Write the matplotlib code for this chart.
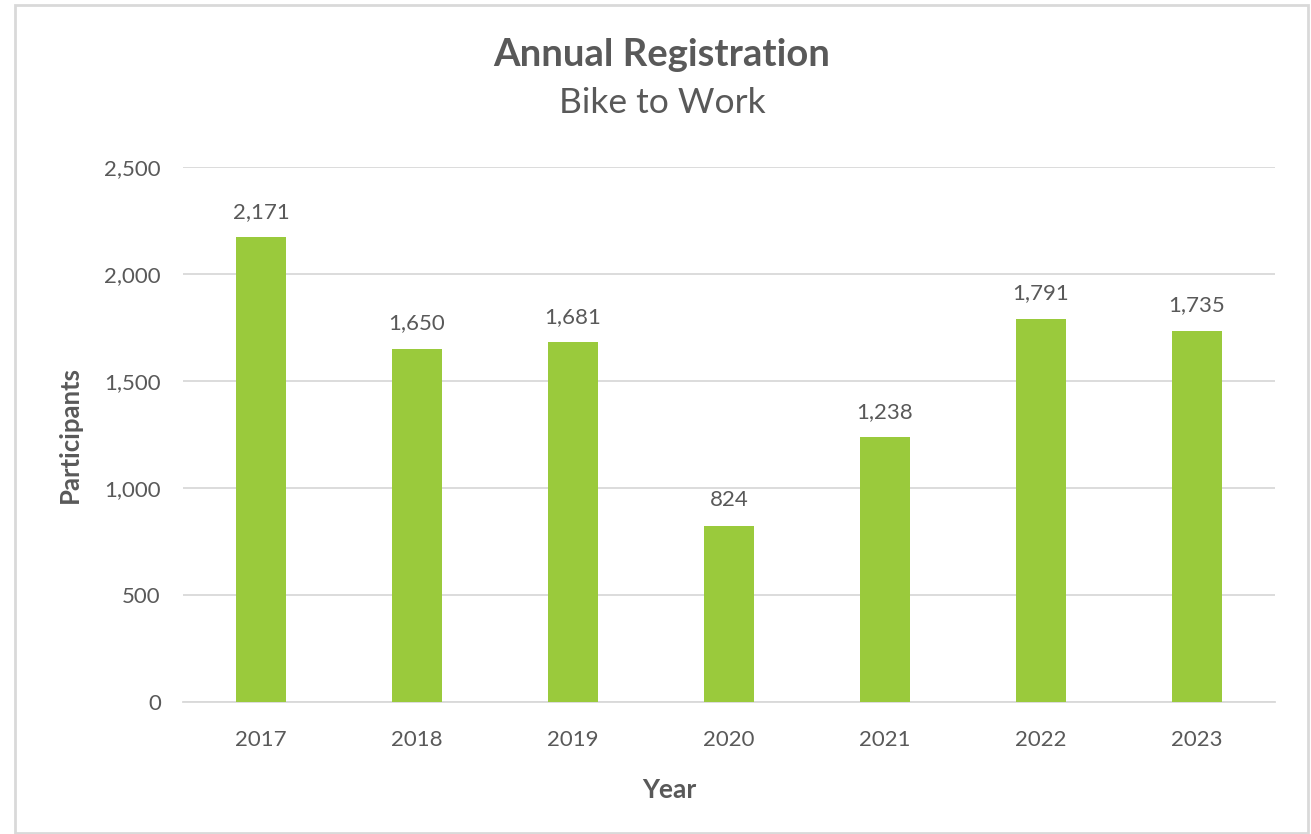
import matplotlib.pyplot as plt
from matplotlib.patches import Rectangle

years = ['2017', '2018', '2019', '2020', '2021', '2022', '2023']
participants = [2171, 1650, 1681, 824, 1238, 1791, 1735]
yticks = [0, 500, 1000, 1500, 2000, 2500]

grey = '#595959'
green = '#9ACA3C'
plt.rcParams['font.family'] = ['Lato', 'DejaVu Sans']

fig = plt.figure(figsize=(13.11, 8.34), dpi=100)
ax = fig.add_axes([0.1396, 0.1583, 0.8329, 0.6415])

x = range(len(years))
bars = ax.bar(x, participants, width=0.32, color=green, zorder=3)
for b, v in zip(bars, participants):
    ax.annotate('{:,}'.format(v), (b.get_x() + b.get_width() / 2, v),
                xytext=(0, 11), textcoords='offset points',
                ha='center', va='bottom', fontsize=16, color=grey)

ax.set_xlim(-0.5, len(years) - 0.5)
ax.set_ylim(0, 2500)
ax.set_yticks(yticks)
ax.set_yticklabels(['{:,}'.format(t) for t in yticks])
ax.set_xticks(list(x))
ax.set_xticklabels(years)
ax.tick_params(length=0, labelsize=16, labelcolor=grey)
ax.tick_params(axis='y', pad=16)
ax.tick_params(axis='x', pad=20)
ax.grid(axis='y', color='#D9D9D9', linewidth=1.3, zorder=0)
for s in ['top', 'right', 'left']:
    ax.spines[s].set_visible(False)
ax.spines['bottom'].set_color('#D9D9D9')
ax.spines['bottom'].set_linewidth(1.3)

ax.set_xlabel('Year', fontsize=19, fontweight='bold', color=grey)
ax.xaxis.set_label_coords(0.445, -0.143)
ax.set_ylabel('Participants', fontsize=18.5, fontweight='bold', color=grey, labelpad=16)

fig.text(0.505, 0.934, 'Annual Registration', ha='center', va='center',
         fontsize=27.5, fontweight='bold', color=grey)
fig.text(0.505, 0.876, 'Bike to Work', ha='center', va='center',
         fontsize=25.5, color=grey)

# outer chart frame
fig.patches.append(Rectangle((15 / 1311, 1 / 834), 1293 / 1311, 828 / 834,
                             transform=fig.transFigure, fill=False,
                             edgecolor='#D9D9D9', linewidth=2))

fig.savefig('out.png', dpi=100)
